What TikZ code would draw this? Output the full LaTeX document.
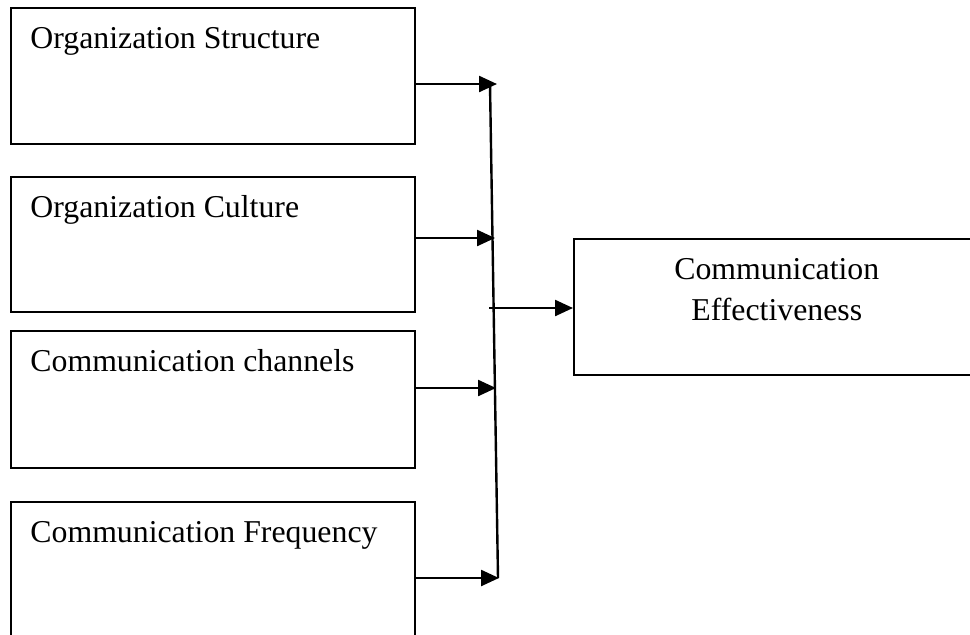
\documentclass[tikz,border=0pt]{standalone}
\usepackage{fontspec}
\setmainfont{Liberation Serif}
\usetikzlibrary{arrows.meta}

\begin{document}
\begin{tikzpicture}[x=0.5pt, y=-0.5pt,
    box/.style={rectangle, draw, line width=0.8pt, inner sep=0pt, anchor=north west},
    lbl/.style={font=\fontsize{15.9}{20.5}\selectfont, inner sep=0pt},
    arr/.style={-{Triangle[length=9pt, width=8pt]}, line width=1.2pt}]
    \useasboundingbox (0,0) rectangle (970,634);

    % Factor boxes
    \node[box, minimum width=202pt, minimum height=68pt] (struct) at (10,7) {};
    \node[box, minimum width=202pt, minimum height=67.5pt] (culture) at (10,176) {};
    \node[box, minimum width=202pt, minimum height=68.5pt] (channels) at (10,330) {};
    \node[box, minimum width=202pt, minimum height=74.5pt] (freq) at (10,501) {};

    \node[lbl, anchor=base west] (structtxt) at ([xshift=10pt, yshift=-20.5pt]struct.north west) {Organization Structure};
    \node[lbl, anchor=base west] (culturetxt) at ([xshift=10pt, yshift=-20.5pt]culture.north west) {Organization Culture};
    \node[lbl, anchor=base west] (channelstxt) at ([xshift=10pt, yshift=-20.5pt]channels.north west) {Communication channels};
    \node[lbl, anchor=base west] (freqtxt) at ([xshift=10pt, yshift=-20.5pt]freq.north west) {Communication Frequency};

    % Outcome box
    \node[box, minimum width=201pt, minimum height=68pt] (effect) at (573,238) {};
    \node[lbl, align=center, anchor=north] (effecttxt) at ([xshift=1pt, yshift=-10pt]effect.north) {Communication\\Effectiveness};

    % Collector line
    \coordinate (top) at (490,84);
    \coordinate (bot) at (498,578);
    \draw[line width=1.2pt] (top) -- (bot);

    \coordinate (j1) at (497,84);
    \coordinate (j2) at (495,238);
    \coordinate (j3) at (496,388);
    \coordinate (j4) at (499,578);
    \coordinate (jout) at (489,308);

    \draw[arr] (struct.east |- j1) -- (j1);
    \draw[arr] (culture.east |- j2) -- (j2);
    \draw[arr] (channels.east |- j3) -- (j3);
    \draw[arr] (freq.east |- j4) -- (j4);
    \draw[arr] (jout) -- (effect.west |- jout);
\end{tikzpicture}
\end{document}
